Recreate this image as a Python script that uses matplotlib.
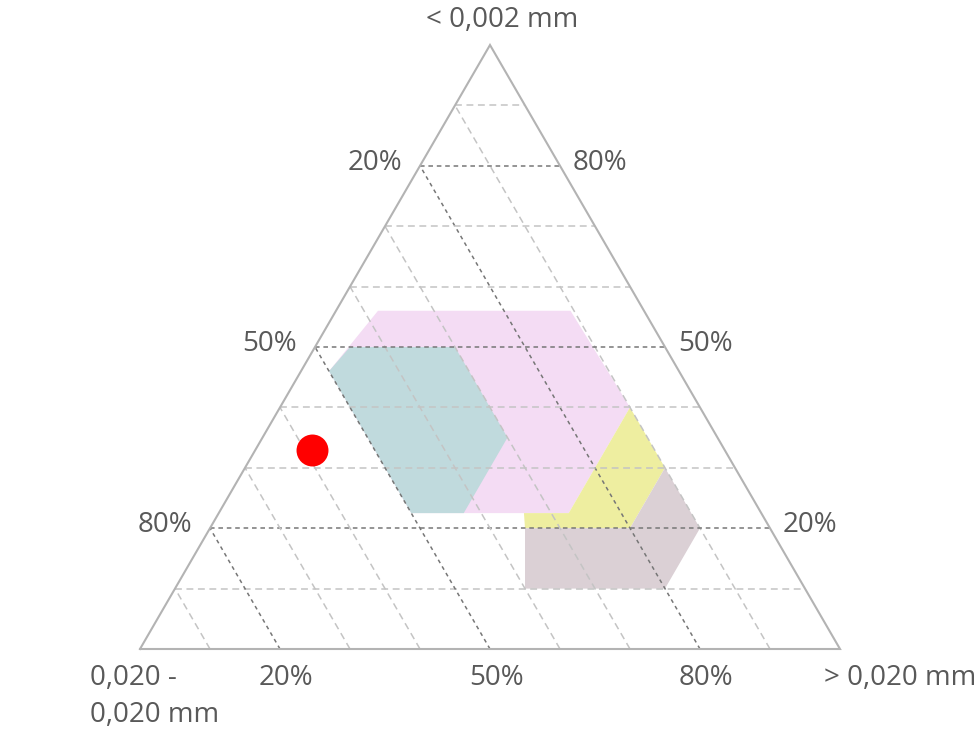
#!/usr/bin/env python3
"""Ternary grain-size diagram with class fields and one sample point."""

import matplotlib

matplotlib.use("Agg")
import matplotlib.pyplot as plt
import numpy as np

# fractions: clay = "< 0,002 mm" (top corner), sand = "> 0,020 mm" (right corner)
TOP_LABEL = "< 0,002 mm"
RIGHT_LABEL = "> 0,020 mm"
LEFT_LABEL = "0,020 -\n0,020 mm"

LEFT_TICK_LEVELS = [0.8, 0.5, 0.2]
LEFT_TICK_TEXT = ["20%", "50%", "80%"]
RIGHT_TICK_TEXT = ["80%", "50%", "20%"]
BOTTOM_TICK_LEVELS = [0.2, 0.5, 0.8]
BOTTOM_TICK_TEXT = ["20%", "50%", "80%"]

PINK_CLAY = [0.56, 0.56, 0.40, 0.225, 0.225, 0.46]
PINK_SAND = [0.06, 0.335, 0.50, 0.50, 0.275, 0.04]
TEAL_CLAY = [0.50, 0.50, 0.35, 0.225, 0.225, 0.46]
TEAL_SAND = [0.05, 0.20, 0.35, 0.35, 0.275, 0.04]
YELLOW_CLAY = [0.40, 0.30, 0.20, 0.20, 0.225, 0.225]
YELLOW_SAND = [0.50, 0.60, 0.60, 0.45, 0.436, 0.50]
MAUVE_CLAY = [0.20, 0.20, 0.30, 0.20, 0.10, 0.10]
MAUVE_SAND = [0.45, 0.60, 0.60, 0.70, 0.70, 0.50]

SAMPLE_CLAY = [0.33]
SAMPLE_SAND = [0.08]

TEXT_COLOR = "#595959"
EDGE_COLOR = "#b3b3b3"
GRID_LIGHT = "#c4c4c4"
GRID_DARK = "#767676"


def to_xy(clay, sand):
    clay = np.asarray(clay, dtype=float)
    sand = np.asarray(sand, dtype=float)
    return sand + clay / 2.0, clay


def draw_grid(ax):
    for level in np.arange(1, 10) / 10.0:
        dark = any(abs(level - d) < 1e-6 for d in (0.2, 0.5, 0.8))
        color = GRID_DARK if dark else GRID_LIGHT
        dashes = (3, 2.5) if dark else (4.5, 3)
        # horizontal: constant clay
        x0, y0 = to_xy([level, level], [0.0, 1.0 - level])
        ax.plot(x0, y0, color=color, lw=1.1, dashes=dashes, zorder=3)
        # parallel to right edge: constant silt
        x1, y1 = to_xy([0.0, 1.0 - level], [1.0 - level, 0.0])
        ax.plot(x1, y1, color=color, lw=1.1, dashes=(2.5, 2.5) if dark else dashes, zorder=3)


def main() -> None:
    plt.rcParams["font.family"] = ["Open Sans", "DejaVu Sans"]
    fig = plt.figure(figsize=(9.8, 7.32), dpi=100)
    ax = fig.add_axes([140 / 980, (732 - 649) / 732, 700 / 980, 604 / 732])
    ax.set_xlim(0, 1)
    ax.set_ylim(0, 1)
    ax.axis("off")

    fields = [
        (PINK_CLAY, PINK_SAND, "#f4dcf4"),
        (TEAL_CLAY, TEAL_SAND, "#c0dadd"),
        (YELLOW_CLAY, YELLOW_SAND, "#eeeea0"),
        (MAUVE_CLAY, MAUVE_SAND, "#dbd0d5"),
    ]
    for clay, sand, color in fields:
        x, y = to_xy(clay, sand)
        ax.fill(x, y, color=color, lw=0, zorder=2)

    draw_grid(ax)

    tx, ty = to_xy([0, 1, 0, 0], [0, 0, 1, 0])
    ax.plot(tx, ty, color=EDGE_COLOR, lw=1.5, zorder=4, solid_joinstyle="miter", clip_on=False)

    sx, sy = to_xy(SAMPLE_CLAY, SAMPLE_SAND)
    ax.plot(sx, sy, "o", color="#ff0000", markersize=23, markeredgewidth=0, zorder=5)

    style = dict(color=TEXT_COLOR, fontsize=20, textcoords="offset pixels", va="center", annotation_clip=False)
    for level, left, right in zip(LEFT_TICK_LEVELS, LEFT_TICK_TEXT, RIGHT_TICK_TEXT):
        lx, ly = to_xy([level], [0.0])
        rx, ry = to_xy([level], [1.0 - level])
        ax.annotate(left, (lx[0], ly[0]), xytext=(-18, 3), ha="right", **style)
        ax.annotate(right, (rx[0], ry[0]), xytext=(13, 3), ha="left", **style)
    for level, text in zip(BOTTOM_TICK_LEVELS, BOTTOM_TICK_TEXT):
        bx, by = to_xy([0.0], [level])
        ax.annotate(text, (bx[0], by[0]), xytext=(6, -29), ha="center", **style)

    ax.annotate(TOP_LABEL, (0.5, 1.0), xytext=(12, 25), ha="center", **style)
    ax.annotate(RIGHT_LABEL, (1.0, 0.0), xytext=(-16, -29), ha="left", **style)
    for i, line in enumerate(LEFT_LABEL.split("\n")):
        ax.annotate(line, (0.0, 0.0), xytext=(-50, -29 - 37 * i), ha="left", **style)

    fig.savefig("out.png", dpi=100)
    plt.close(fig)


if __name__ == "__main__":
    main()
